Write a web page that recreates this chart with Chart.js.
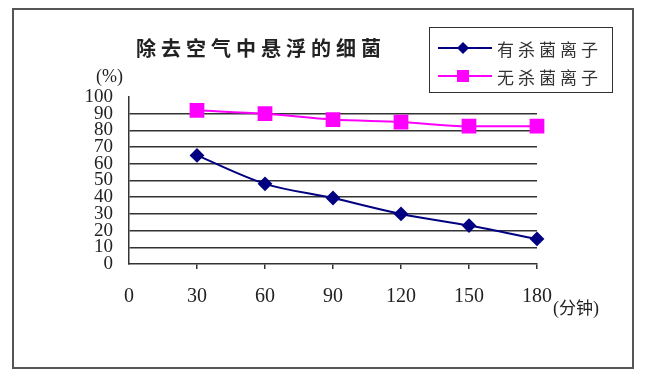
<!DOCTYPE html>
<html>
<head>
<meta charset="utf-8">
<script src="https://cdn.jsdelivr.net/npm/chart.js@4"></script>
<style>
  html, body { margin: 0; padding: 0; background: #fff; }
  #wrap { position: relative; width: 650px; height: 378px; }
  #grafico { position: absolute; left: 0; top: 0; }
  .moldura { position: absolute; left: 12px; top: 8px; width: 618px; height: 357px; border: 2px solid #555; }
  .titulo { position: absolute; left: 136px; top: 35px; font: bold 20px "Noto Sans CJK SC", sans-serif; letter-spacing: 5px; color: #222; line-height: 26px; white-space: nowrap; }
  .unidade { position: absolute; font: 18px "Liberation Serif", serif; color: #222; white-space: nowrap; line-height: 20px; }
  .unidade span { font-family: "Noto Sans CJK SC", sans-serif; font-size: 17px; }
  .legenda { position: absolute; left: 429px; top: 27px; width: 182px; height: 64px; border: 1.5px solid #333; }
  .item { position: absolute; left: 6px; height: 24px; display: flex; align-items: center; }
  .item svg { width: 56px; height: 20px; }
  .item span { margin-left: 5px; font: 17px "Noto Sans CJK SC", sans-serif; letter-spacing: 4px; color: #333; white-space: nowrap; }
</style>
</head>
<body>
<div id="wrap">
  <canvas id="grafico" width="650" height="378"></canvas>
  <div class="moldura"></div>
  <div class="titulo">除去空气中悬浮的细菌</div>
  <div class="unidade" style="left:96px; top:66px;">(%)</div>
  <div class="unidade" style="left:553px; top:297px;">(<span>分钟</span>)</div>
  <div class="legenda">
    <div class="item" style="top:8px;">
      <svg viewBox="0 0 56 20"><line x1="2" y1="10" x2="56" y2="10" stroke="#000080" stroke-width="2"/><polygon points="27,4 33,10 27,16 21,10" fill="#000080"/></svg>
      <span>有杀菌离子</span>
    </div>
    <div class="item" style="top:36px;">
      <svg viewBox="0 0 56 20"><line x1="2" y1="10" x2="56" y2="10" stroke="#FF00FF" stroke-width="2"/><rect x="21" y="4" width="12" height="12" fill="#FF00FF"/></svg>
      <span>无杀菌离子</span>
    </div>
  </div>
</div>
<script>
// tempo em minutos
const minutos = [30, 60, 90, 120, 150, 180];
// % de bactérias restantes
const comIons = [65, 48, 39.5, 30, 23, 15];
const semIons = [92, 90, 86.5, 85, 82.5, 82.5];
const nomesSeries = ['有杀菌离子', '无杀菌离子'];
const ticksX = [0, 30, 60, 90, 120, 150, 180];
const ticksY = [0, 10, 20, 30, 40, 50, 60, 70, 80, 90, 100];

const corLinha = '#333';

function pontos(valores) {
    return minutos.map((m, i) => ({ x: m, y: valores[i] }));
}

new Chart(document.getElementById('grafico').getContext('2d'), {
    type: 'line',
    data: {
        datasets: [
            {
                label: nomesSeries[0],
                data: pontos(comIons),
                borderColor: '#000080',
                backgroundColor: '#000080',
                borderWidth: 2,
                pointStyle: 'rectRot',
                pointRadius: 6,
                cubicInterpolationMode: 'monotone',
                clip: false
            },
            {
                label: nomesSeries[1],
                data: pontos(semIons),
                borderColor: '#FF00FF',
                backgroundColor: '#FF00FF',
                borderWidth: 2,
                pointStyle: 'rect',
                pointRadius: 9,
                cubicInterpolationMode: 'monotone',
                clip: false
            }
        ]
    },
    options: {
        responsive: false,
        animation: false,
        layout: { padding: { top: 97, right: 113, left: 0, bottom: 0 } },
        plugins: { legend: { display: false }, tooltip: { enabled: false } },
        scales: {
            x: {
                type: 'linear',
                min: 0,
                max: 180,
                afterBuildTicks: s => { s.ticks = ticksX.map(v => ({ value: v })); },
                afterFit: s => { s.height = 114; },
                ticks: {
                    color: '#222',
                    padding: 16,
                    maxRotation: 0,
                    autoSkip: false,
                    font: { size: 20, family: '"Liberation Serif", serif' }
                },
                grid: {
                    drawOnChartArea: false,
                    drawTicks: true,
                    tickLength: 5,
                    lineWidth: 1.5,
                    color: c => (c.tick && c.tick.value === 0) ? 'transparent' : corLinha
                },
                border: { display: true, color: corLinha, width: 1.5 }
            },
            y: {
                min: 0,
                max: 100,
                afterBuildTicks: s => { s.ticks = ticksY.map(v => ({ value: v })); },
                afterFit: s => { s.width = 129; },
                ticks: {
                    color: '#222',
                    padding: 16,
                    autoSkip: false,
                    font: { size: 19, family: '"Liberation Serif", serif' }
                },
                grid: {
                    drawTicks: false,
                    lineWidth: 1.5,
                    color: c => (c.tick && (c.tick.value === 0 || c.tick.value === 100)) ? 'transparent' : corLinha
                },
                border: { display: true, color: corLinha, width: 1.5 }
            }
        }
    }
});
</script>
</body>
</html>
